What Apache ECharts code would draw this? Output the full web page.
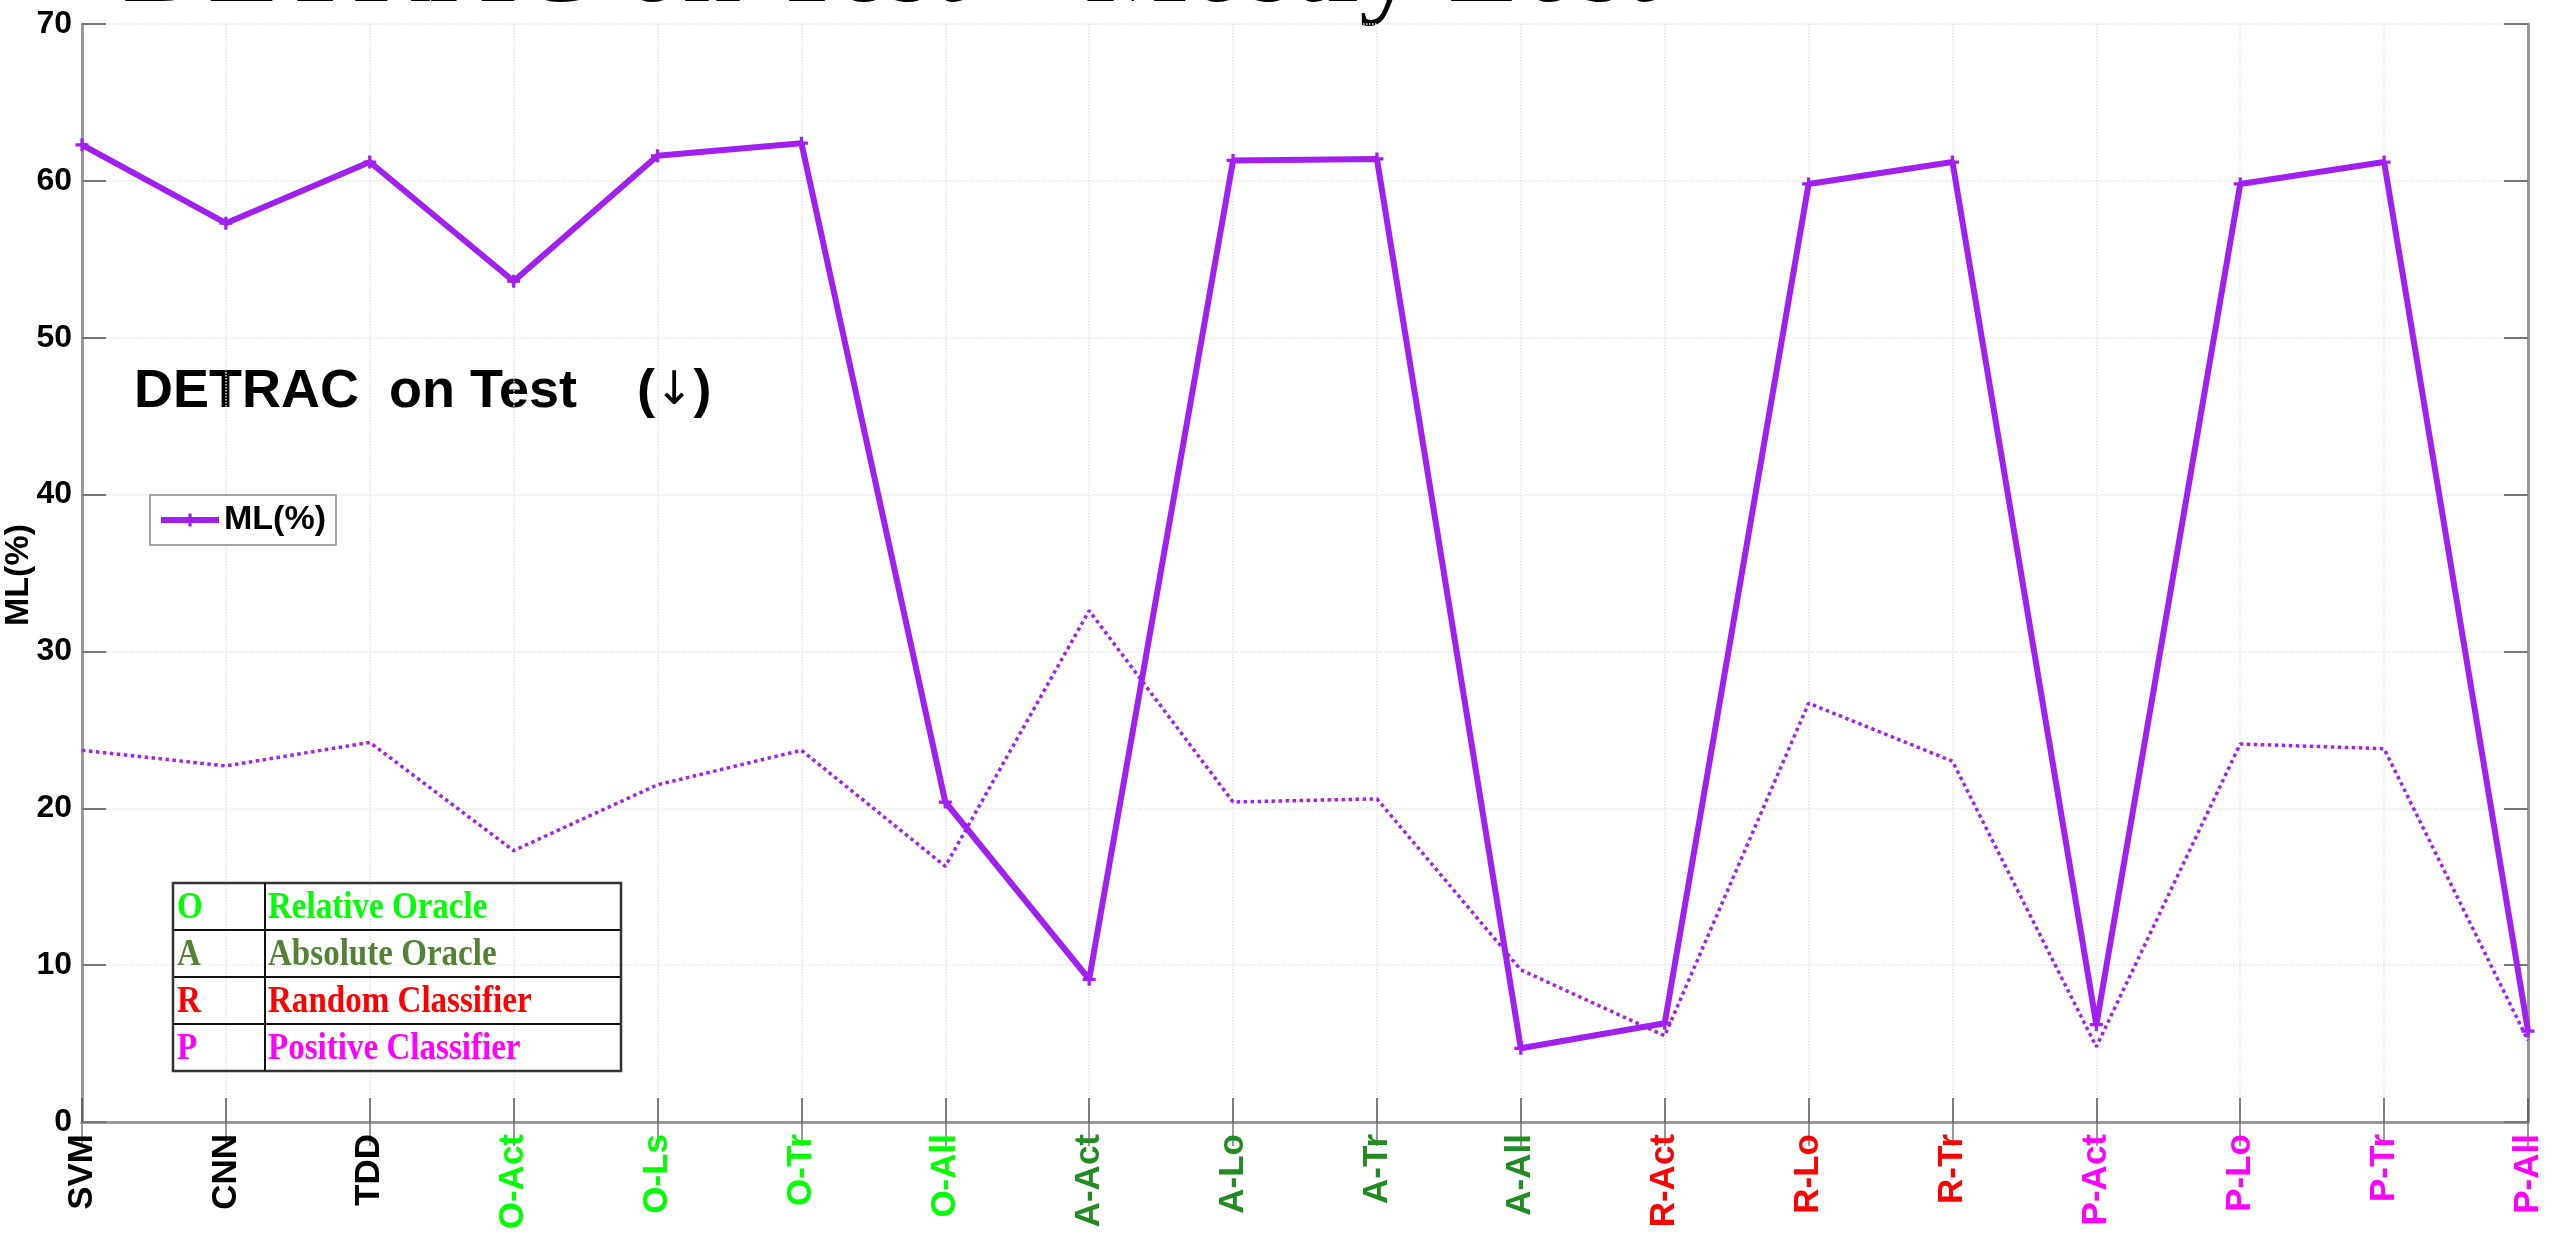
<!DOCTYPE html>
<html>
<head>
<meta charset="utf-8">
<script src="https://cdn.jsdelivr.net/npm/echarts@6/dist/echarts.min.js"></script>
<style>
  html, body { margin: 0; padding: 0; background: #fff; }
  #chart { width: 2560px; height: 1240px; }
</style>
</head>
<body>
<div id="chart"></div>
<script>
const categories = ["SVM", "CNN", "TDD", "O-Act", "O-Ls", "O-Tr", "O-All", "A-Act", "A-Lo", "A-Tr", "A-All", "R-Act", "R-Lo", "R-Tr", "P-Act", "P-Lo", "P-Tr", "P-All"];
const mlValues = [62.3, 57.3, 61.2, 53.6, 61.6, 62.4, 20.4, 9.1, 61.3, 61.4, 4.7, 6.3, 59.8, 61.2, 6.2, 59.8, 61.2, 5.8];
const dottedValues = [23.7, 22.7, 24.2, 17.3, 21.5, 23.7, 16.3, 32.6, 20.4, 20.6, 9.7, 5.5, 26.7, 23.0, 4.8, 24.1, 23.8, 5.2];
const yTicks = { min: 0, max: 70, interval: 10 };

const tableKeys = ["O", "A", "R", "P"];
const tableNames = ["Relative Oracle", "Absolute Oracle", "Random Classifier", "Positive Classifier"];
const tableColors = ["#00ff00", "#548235", "#ff0000", "#ff00ff"];
const labelColors = { O: "#00ff00", A: "#228b22", R: "#ff0000", P: "#ff00ff" };

const PURPLE = "#a020f0";
const PLUS = "path://M3,0 L5,0 L5,3 L8,3 L8,5 L5,5 L5,8 L3,8 L3,5 L0,5 L0,3 L3,3 Z";
const NARROW = 0.87; // the source picture is squeezed sideways

function buildTable() {
  const x0 = 173, x1 = 265, x2 = 621, y0 = 883, rowH = 47;
  const els = [];
  tableKeys.forEach((key, i) => {
    const top = y0 + i * rowH;
    els.push({
      type: "text", z: 100, x: x0 + 4, y: top + 25, scaleX: NARROW,
      style: { text: key, fill: tableColors[i],
        font: 'bold 38px "Liberation Serif"', verticalAlign: "middle" }
    });
    els.push({
      type: "text", z: 100, x: x1 + 3, y: top + 25, scaleX: NARROW,
      style: { text: tableNames[i], fill: tableColors[i],
        font: 'bold 38px "Liberation Serif"', verticalAlign: "middle" }
    });
    if (i > 0) {
      els.push({ type: "line", z: 100, shape: { x1: x0, y1: top, x2: x2, y2: top },
        style: { stroke: "#111", lineWidth: 2 } });
    }
  });
  const h = rowH * tableKeys.length;
  els.push({ type: "rect", z: 100, shape: { x: x0, y: y0, width: x2 - x0, height: h },
    style: { fill: "none", stroke: "#333", lineWidth: 2.5 } });
  els.push({ type: "line", z: 100, shape: { x1: x1, y1: y0, x2: x1, y2: y0 + h },
    style: { stroke: "#111", lineWidth: 2 } });
  return els;
}

function renderChart() {
  const chart = echarts.init(document.getElementById("chart"));

  const frameAxisLine = { show: true, lineStyle: { color: "#999", width: 3 } };

  const option = {
    backgroundColor: "#fff",
    animation: false,
    grid: { left: 82, right: 32, top: 24, bottom: 118 },
    legend: {
      data: ["ML(%)"],
      left: 150, top: 495,
      orient: "vertical",
      backgroundColor: "#fff",
      borderColor: "#888", borderWidth: 1.5,
      padding: [8, 10, 8, 8],
      itemWidth: 58, itemHeight: 16,
      lineStyle: { width: 6 },
      textStyle: { fontFamily: "Liberation Sans", fontWeight: "bold", fontSize: 34, color: "#000" }
    },
    xAxis: [
      {
        type: "category",
        data: categories,
        boundaryGap: false,
        axisLine: frameAxisLine,
        axisTick: { inside: true, length: 24, lineStyle: { color: "#555", width: 1.5 } },
        splitLine: { show: true, lineStyle: { color: "#e4e4e4", type: "dotted", width: 1.5 } },
        axisLabel: {
          rotate: 90,
          margin: 12,
          interval: 0,
          padding: [32, 0, 0, 0],
          fontFamily: "Liberation Sans",
          fontWeight: "bold",
          fontSize: 35,
          color: (value) => labelColors[value.charAt(0)] && value.charAt(1) === "-" ? labelColors[value.charAt(0)] : "#000"
        }
      },
      {
        type: "category",
        data: categories,
        boundaryGap: false,
        position: "top",
        axisLine: frameAxisLine,
        axisTick: { inside: true, length: 24, lineStyle: { color: "#777", width: 1.5 } },
        axisLabel: { show: false },
        splitLine: { show: false }
      }
    ],
    yAxis: [
      {
        type: "value",
        min: yTicks.min, max: yTicks.max, interval: yTicks.interval,
        axisLine: frameAxisLine,
        axisTick: { show: true, inside: true, length: 24, lineStyle: { color: "#777", width: 2 } },
        splitLine: { show: true, lineStyle: { color: "#e4e4e4", type: "dotted", width: 1.5 } },
        axisLabel: { margin: 10, fontFamily: "Liberation Sans", fontWeight: "bold", fontSize: 32, color: "#000" }
      },
      {
        type: "value",
        position: "right",
        min: yTicks.min, max: yTicks.max, interval: yTicks.interval,
        axisLine: frameAxisLine,
        axisTick: { show: true, inside: true, length: 24, lineStyle: { color: "#777", width: 2 } },
        axisLabel: { show: false },
        splitLine: { show: false }
      }
    ],
    series: [
      {
        name: "Dotted",
        type: "line",
        data: dottedValues,
        symbol: "none",
        lineStyle: { color: PURPLE, width: 3.5, type: "dotted" },
        itemStyle: { color: PURPLE },
        z: 3
      },
      {
        name: "ML(%)",
        type: "line",
        data: mlValues,
        symbol: PLUS,
        symbolSize: 13,
        lineStyle: { color: PURPLE, width: 6 },
        itemStyle: { color: PURPLE },
        z: 4
      }
    ],
    graphic: [
      {
        type: "text",
        style: { text: "DETRAC on Test \u2013 Mostly Lost", x: 122, y: -30,
          font: '118px "Liberation Serif"', fill: "#000", verticalAlign: "middle" }
      },
      {
        type: "text",
        style: {
          text: "{a|DETRAC  on Test    (}{b|\u2193}{a|)}", x: 134, y: 392, verticalAlign: "middle",
          rich: {
            a: { fontFamily: "Liberation Sans", fontWeight: "bold", fontSize: 54, fill: "#000" },
            b: { fontFamily: "DejaVu Sans", fontSize: 46, fill: "#000" }
          }
        }
      },
      {
        type: "text",
        rotation: Math.PI / 2,
        x: 19, y: 575,
        style: { text: "ML(%)", font: 'bold 34px "Liberation Sans"', fill: "#000",
          align: "center", verticalAlign: "middle" }
      }
    ].concat(buildTable())
  };

  chart.setOption(option);
}

document.addEventListener("DOMContentLoaded", function () {
  renderChart();
});
</script>
</body>
</html>
